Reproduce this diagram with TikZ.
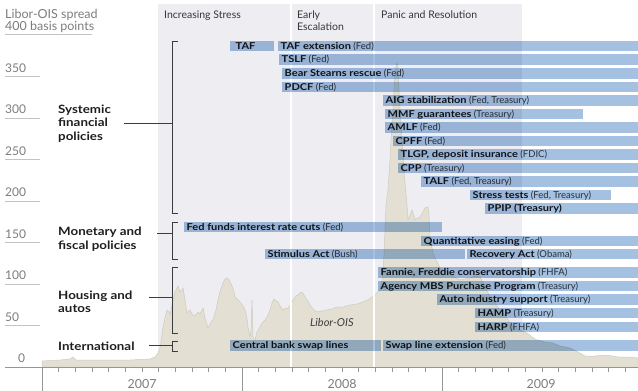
\documentclass[tikz,border=0pt]{standalone}
\usepackage{fontspec}
\setmainfont{Lato}[BoldFeatures={FakeStretch=1.16}]
\definecolor{bandc}{RGB}{237,237,242}
\definecolor{curvefill}{RGB}{227,223,211}
\definecolor{curveline}{RGB}{208,203,190}
\definecolor{barblue}{RGB}{164,193,226}
\definecolor{txtdark}{RGB}{28,28,28}
\definecolor{txtag}{RGB}{62,62,62}
\definecolor{grayc}{RGB}{125,125,125}
\definecolor{ylinec}{RGB}{195,195,195}
\definecolor{axisc}{RGB}{150,150,150}
\definecolor{catc}{RGB}{30,30,30}
\definecolor{brkc}{RGB}{60,60,60}
\definecolor{phasec}{RGB}{55,55,55}
\tikzset{
  bartext/.style={anchor=base west, inner xsep=2.5pt, inner ysep=0pt, font=\fontsize{9.5}{10}\selectfont, text=txtdark},
  barfill/.style={fill=barblue},
  cat/.style={anchor=west, align=left, inner sep=0pt, font=\bfseries\fontsize{11.5}{13.5}\selectfont, text=catc},
  brk/.style={draw=brkc, line width=0.8pt},
  ylab/.style={anchor=base west, inner sep=0pt, font=\fontsize{12}{12}\selectfont, text=grayc},
  ytitle/.style={anchor=base west, inner sep=0pt, font=\fontsize{12.5}{12.5}\selectfont, text=grayc},
  phase/.style={anchor=base west, inner sep=0pt, font=\fontsize{10.5}{12.5}\selectfont, text=phasec},
  yearlab/.style={anchor=base, inner sep=0pt, font=\fontsize{12.5}{13}\selectfont, text=grayc},
}
\newcommand\polbar[6]{%
  \fill[barfill] (#2,#4-5.25) rectangle (#3,#4+5.25);
  \node[bartext] (#1) at (#2,#4+3.4) {\textbf{#5} \textcolor{txtag}{#6}};
}
\begin{document}
\begin{tikzpicture}[x=1pt,y=-1pt]
\useasboundingbox (0,0) rectangle (638,391);
% phase band
\fill[bandc] (158,4) rectangle (522,367);
% Libor-OIS curve
\fill[curvefill, draw=curveline, line width=0.5pt] plot coordinates {
(42,361) (60,360) (70,359) (73,357) (76,360) (100,360) (130,360) (150,359) (155,357) (158,353) (160,348) (162,335) (163,327) (165,318) (167,310) (169,312) (170,315) (172,305) (175,292) (177,288) (178,286) (180,292) (182,290) (183,288) (185,300) (187,313) (190,310) (192,314) (195,316) (198,312) (200,314) (203,308) (205,318) (208,328) (211,322) (213,320) (216,310) (218,300) (220,292) (223,283) (225,279) (227,278) (229,280) (232,286) (234,292) (235,297) (238,300) (240,302) (243,306) (245,310) (247,318) (248,327) (250,337) (251,330) (252,300) (253,337) (255,340) (257,332) (260,327) (262,323) (265,320) (267,317) (270,310) (272,303) (274,299) (275,300) (278,302) (280,306) (283,310) (286,308) (288,308) (291,304) (293,300) (296,296) (298,295) (300,293) (302,292) (304,295) (305,297) (308,301) (310,305) (313,309) (317,312) (322,311) (327,310) (332,309) (337,307) (343,307) (350,305) (357,304) (363,302) (368,300) (372,297) (376,294) (380,290) (382,280) (383,270) (384,255) (385,230) (386,205) (388,190) (390,160) (391,140) (393,110) (394,90) (395,75) (396,66) (397,63) (398,68) (399,90) (400,110) (402,140) (404,170) (406,195) (407,205) (408,220) (410,215) (412,210) (414,216) (415,220) (418,218) (420,217) (423,212) (425,208) (428,207) (429,215) (430,237) (432,248) (433,253) (436,260) (440,268) (443,270) (447,272) (452,275) (456,278) (460,280) (465,279) (470,278) (475,276) (480,277) (484,285) (488,293) (490,297) (495,303) (500,310) (503,313) (508,320) (513,327) (520,330) (527,333) (532,337) (537,340) (545,342) (553,343) (560,346) (570,348) (578,352) (585,356) (595,356) (605,355) (612,356) (618,357) (628,357) (638,358) (638,367) (42,367)} -- cycle;
% phase separators
\draw[white, line width=1.5pt] (291,4) -- (291,367);
\draw[white, line width=1.5pt] (374,4) -- (374,367);
% phase labels
\node[phase] (ph1) at (164,18.5) {Increasing Stress};
\node[phase] (ph2) at (297,18.5) {Early};
\node[phase] (ph2b) at (297,30.5) {Escalation};
\node[phase] (ph3) at (381,18.5) {Panic and Resolution};
% y axis
\node[ytitle] (yt1) at (5,18.5) {Libor-OIS spread};
\node[ytitle] (yt2) at (5,30.7) {400 basis points};
\draw[ylinec, line width=0.8pt] (5,34) -- (92,34);
\foreach \v in {350,300,250,200,150,100,50}{
  \pgfmathsetmacro\yy{367-0.83*\v}
  \draw[ylinec, line width=0.8pt] (5,\yy) -- (40,\yy);
  \node[ylab] (y\v) at (5,\yy-4.5) {\v};
}
\node[ylab] (y0) at (18,362.7) {0};
% time axis
\draw[axisc, line width=0.8pt] (5,367) -- (638,367);
\foreach \m in {1,...,35}{
  \draw[axisc, line width=0.6pt] (42+\m*16.667,367) -- (42+\m*16.667,372);
}
\foreach \xx in {42,242,442}{
  \draw[axisc, line width=0.8pt] (\xx,367) -- (\xx,391);
}
\node[yearlab] (yr7) at (142,388) {2007};
\node[yearlab] (yr8) at (342,388) {2008};
\node[yearlab] (yr9) at (541,388) {2009};
% bars
\begin{scope}[blend mode=multiply]
\fill[barfill] (230,40.75) rectangle (274,51.25);
\node[bartext] (taf) at (233,49.4) {\textbf{TAF}};
\polbar{tafext}{278}{638}{46}{TAF extension}{(Fed)}
\polbar{tslf}{279}{638}{59.5}{TSLF}{(Fed)}
\polbar{bear}{282}{638}{73.5}{Bear Stearns rescue}{(Fed)}
\polbar{pdcf}{282}{638}{87}{PDCF}{(Fed)}
\polbar{aig}{383}{638}{100.5}{AIG stabilization}{(Fed, Treasury)}
\polbar{mmf}{385}{583}{114}{MMF guarantees}{(Treasury)}
\polbar{amlf}{385}{638}{127.5}{AMLF}{(Fed)}
\polbar{cpff}{393}{638}{141}{CPFF}{(Fed)}
\polbar{tlgp}{398}{638}{154.5}{TLGP, deposit insurance}{(FDIC)}
\polbar{cpp}{398}{638}{168}{CPP}{(Treasury)}
\polbar{talf}{421}{638}{181.5}{TALF}{(Fed, Treasury)}
\polbar{stress}{470}{611}{195}{Stress tests}{(Fed, Treasury)}
\polbar{ppip}{485}{638}{208.5}{PPIP (Treasury)}{}
\polbar{fedfunds}{184}{442}{227}{Fed funds interest rate cuts}{(Fed)}
\polbar{qe}{421}{638}{241}{Quantitative easing}{(Fed)}
\polbar{stim}{265}{465}{254}{Stimulus Act}{(Bush)}
\polbar{recov}{467}{638}{254}{Recovery Act}{(Obama)}
\polbar{fannie}{378}{638}{272.5}{Fannie, Freddie conservatorship}{(FHFA)}
\polbar{mbs}{378}{638}{286}{Agency MBS Purchase Program}{(Treasury)}
\polbar{auto}{437}{638}{299.5}{Auto industry support}{(Treasury)}
\polbar{hamp}{475}{638}{313}{HAMP}{(Treasury)}
\polbar{harp}{475}{638}{327}{HARP}{(FHFA)}
\polbar{cbswap}{230}{381}{345.5}{Central bank swap lines}{}
\polbar{swapext}{383}{638}{345.5}{Swap line extension}{(Fed)}
\end{scope}
% Libor-OIS label
\node[anchor=base west, inner sep=0pt, font=\itshape\fontsize{11}{11}\selectfont, text=txtag] (libor) at (310,326) {Libor-OIS};
% categories
\node[cat] (sys) at (58,123.5) {Systemic\\financial\\policies};
\node[cat] (mon) at (58,239) {Monetary and\\fiscal policies};
\node[cat] (hou) at (58,302) {Housing and\\autos};
\node[cat] (int) at (58,346) {International};
% brackets
\coordinate (sysc) at (124,123);
\coordinate (sysm) at (172,123);
\coordinate (monc) at (157,233);
\coordinate (monm) at (172,233);
\coordinate (houc) at (149,297);
\coordinate (houm) at (172,297);
\coordinate (intc) at (149,345.5);
\coordinate (intm) at (172,345.5);
\draw[brk] (178,41) -- (172,41) -- (172,213) -- (178,213);
\draw[brk] (178,222) -- (172,222) -- (172,259) -- (178,259);
\draw[brk] (178,267) -- (172,267) -- (172,333) -- (178,333);
\draw[brk] (178,341) -- (172,341) -- (172,351) -- (178,351);
\draw[brk] (sysc) -- (sysm);
\draw[brk] (monc) -- (monm);
\draw[brk] (houc) -- (houm);
\draw[brk] (intc) -- (intm);
\end{tikzpicture}
\end{document}
